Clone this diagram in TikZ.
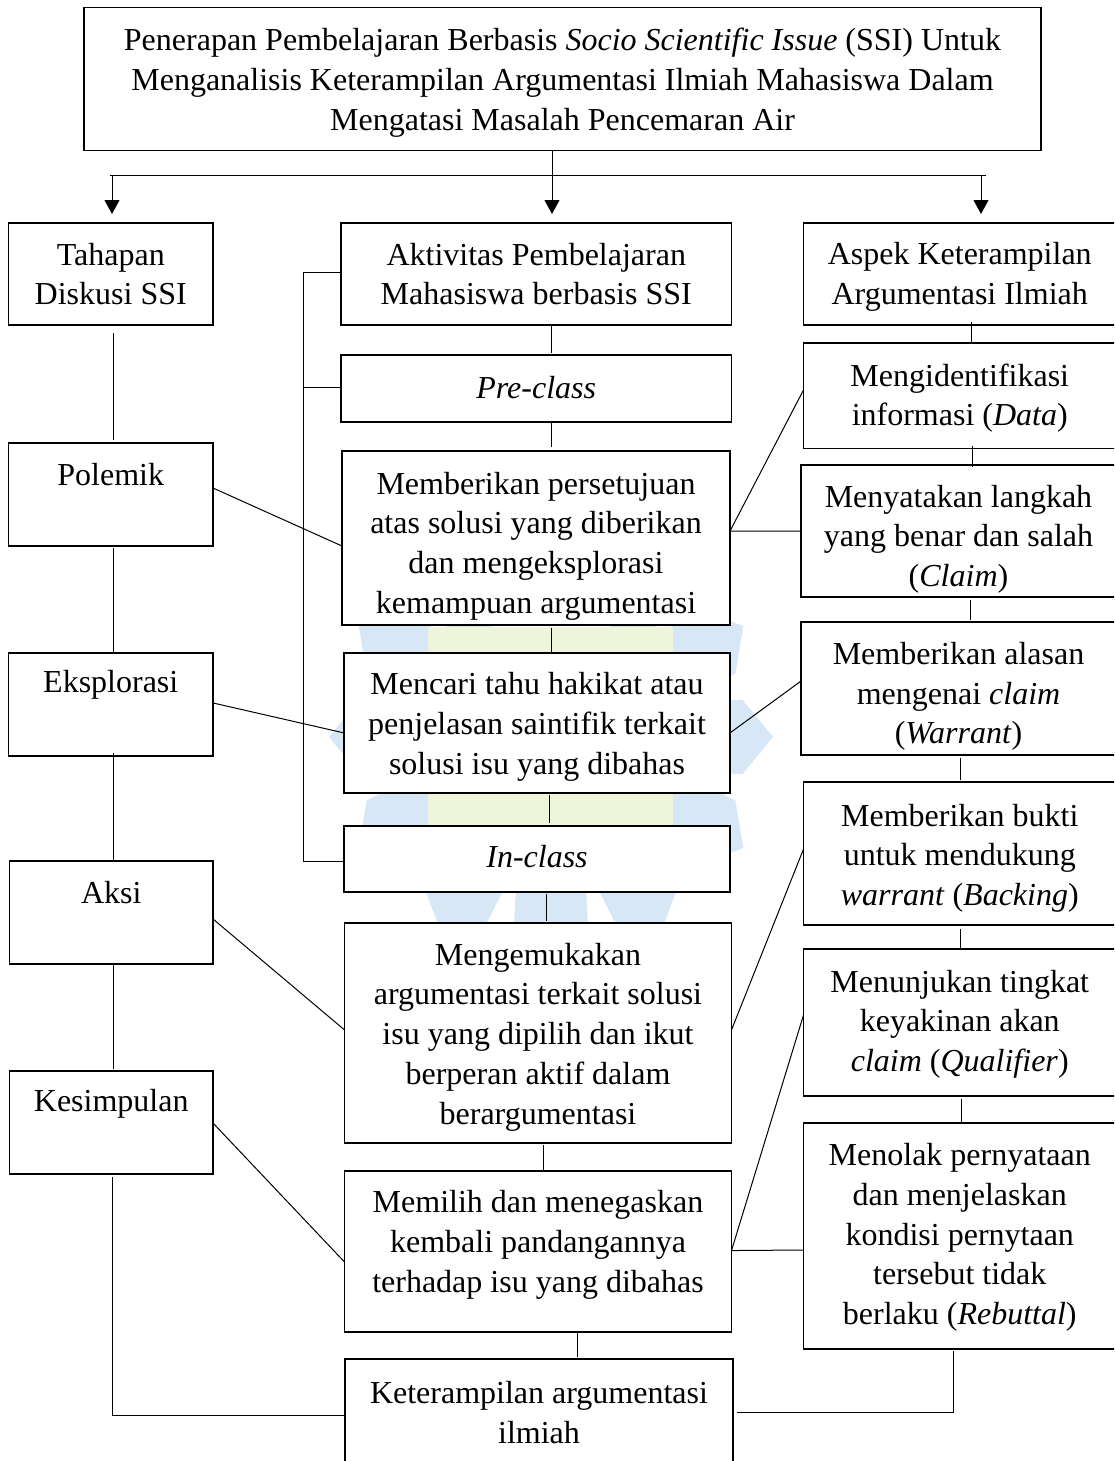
\documentclass[tikz,border=0pt]{standalone}
\usepackage{fontspec}
\setmainfont{Liberation Serif}
\usetikzlibrary{arrows.meta,calc}
\definecolor{wmblue}{RGB}{216,231,246}
\definecolor{wmgreen}{RGB}{238,245,219}
\newcommand\mybx[7]{%
  \node[box, minimum width={(#4-#2)*1pt}, minimum height={(#5-#3)*1pt}] (#1) at ({(#2+#4)/2},{(#3+#5)/2}) {};
  \node[txt] (#1-t) at ({(#2+#4)/2},#6) {#7};}
\begin{document}
\begin{tikzpicture}[x=1pt,y=-1pt,
  box/.style={draw, line width=1.5pt, fill=white, inner sep=0pt, outer sep=0pt},
  txt/.style={align=center, font=\fontsize{32pt}{39.7pt}\selectfont, inner sep=0pt},
  conn/.style={line width=1pt},
  arr/.style={conn, -{Triangle[width=15pt,length=14pt]}}]
\useasboundingbox (0,0) rectangle (1114,1461);
\clip (0,0) rectangle (1114,1461);
% watermark
\begin{scope}[shift={(551,737)}]
\foreach \a in {0,30,...,330}{\fill[wmblue] ({\a-15}:130) -- ({\a-11}:195) -- (\a:222) -- ({\a+11}:195) -- ({\a+15}:130) -- cycle;}
\end{scope}
\fill[wmgreen] (428,627) rectangle (673,890);
% boxes
\mybx{top}{84}{7.5}{1041}{150.5}{82.5}{Penerapan Pembelajaran Berbasis \textit{Socio Scientific Issue} (SSI) Untuk\\Menganalisis Keterampilan Argumentasi Ilmiah Mahasiswa Dalam\\Mengatasi Masalah Pencemaran Air}
\mybx{tahapan}{8.5}{223}{213}{325}{274}{Tahapan\\Diskusi SSI}
\mybx{polemik}{8.5}{443}{213}{546}{475}{Polemik}
\mybx{eksplorasi}{8.5}{653}{213}{756}{685}{Eksplorasi}
\mybx{aksi}{9.5}{861}{213}{964}{893}{Aksi}
\mybx{kesimpulan}{9.5}{1071}{213}{1174}{1104}{Kesimpulan}
\mybx{aktivitas}{341}{223}{731.5}{325}{274}{Aktivitas Pembelajaran\\Mahasiswa berbasis SSI}
\mybx{preclass}{341}{355}{731.5}{422}{388}{\textit{Pre-class}}
\mybx{memberikan}{342}{451}{730}{625}{546}{Memberikan persetujuan\\atas solusi yang diberikan\\dan mengeksplorasi\\kemampuan argumentasi}
\mybx{mencari}{344}{653}{730}{793}{727}{Mencari tahu hakikat atau\\penjelasan saintifik terkait\\solusi isu yang dibahas}
\mybx{inclass}{344}{826}{730}{892}{857}{\textit{In-class}}
\mybx{mengemukakan}{344.5}{923}{731.5}{1143}{1037}{Mengemukakan\\argumentasi terkait solusi\\isu yang dipilih dan ikut\\berperan aktif dalam\\berargumentasi}
\mybx{memilih}{344.5}{1171}{731.5}{1332}{1245}{Memilih dan menegaskan\\kembali pandangannya\\terhadap isu yang dibahas}
\mybx{keterampilan}{345}{1359}{733}{1463}{1412.5}{Keterampilan argumentasi\\ilmiah}
\mybx{aspek}{803.5}{223}{1116}{325}{277}{Aspek Keterampilan\\Argumentasi Ilmiah}
\mybx{data}{803.5}{343}{1116}{448.5}{398}{Mengidentifikasi\\informasi (\textit{Data})}
\mybx{claim}{801}{465}{1116}{597}{539}{Menyatakan langkah\\yang benar dan salah\\(\textit{Claim})}
\mybx{warrant}{801}{622}{1116}{755}{696.5}{Memberikan alasan\\mengenai \textit{claim}\\(\textit{Warrant})}
\mybx{backing}{803.5}{782}{1116}{925}{858}{Memberikan bukti\\untuk mendukung\\\textit{warrant} (\textit{Backing})}
\mybx{qualifier}{803.5}{949}{1116}{1096}{1024}{Menunjukan tingkat\\keyakinan akan\\\textit{claim} (\textit{Qualifier})}
\mybx{rebuttal}{803.5}{1123}{1116}{1349}{1237.5}{Menolak pernyataan\\dan menjelaskan\\kondisi pernytaan\\tersebut tidak\\berlaku (\textit{Rebuttal})}
% top distribution
\coordinate (hm) at (552,175);
\coordinate (hl) at (110,175);
\coordinate (hr) at (985.5,175);
\coordinate (aL) at (112,175);
\coordinate (aR) at (981,175);
\draw[conn] (top.south -| hm) -- (hm);
\draw[conn] (hl) -- (hr);
\draw[arr, shorten >=9pt] (aL) -- (tahapan.north -| aL);
\draw[arr, shorten >=9pt] (hm) -- (aktivitas.north -| hm);
\draw[arr, shorten >=9pt] (aR) -- (aspek.north -| aR);
% left column
\coordinate (xL) at (113.5,0);
\draw[conn, shorten <=8pt, shorten >=3pt] (tahapan.south -| xL) -- (polemik.north -| xL);
\draw[conn, shorten <=2pt] (polemik.south -| xL) -- (eksplorasi.north -| xL);
\draw[conn, shorten <=-3pt] (eksplorasi.south -| xL) -- (aksi.north -| xL);
\draw[conn, shorten >=2pt] (aksi.south -| xL) -- (kesimpulan.north -| xL);
\coordinate (xK) at (112,0);
\coordinate (yK) at (0,1415);
\draw[conn, shorten <=3pt] (kesimpulan.south -| xK) -- (xK |- yK) -- (keterampilan.west |- yK);
% middle column
\coordinate (xM1) at (551,0);
\coordinate (xM2) at (549.5,0);
\coordinate (xM3) at (546,0);
\coordinate (xM4) at (543.5,0);
\coordinate (xM5) at (577.5,0);
\draw[conn, shorten >=2pt] (aktivitas.south -| xM1) -- (preclass.north -| xM1);
\draw[conn, shorten >=4pt] (preclass.south -| xM1) -- (memberikan.north -| xM1);
\draw[conn, shorten <=3pt] (memberikan.south -| xM1) -- (mencari.north -| xM1);
\draw[conn, shorten <=2pt, shorten >=3pt] (mencari.south -| xM2) -- (inclass.north -| xM2);
\draw[conn, shorten <=2pt, shorten >=2pt] (inclass.south -| xM3) -- (mengemukakan.north -| xM3);
\draw[conn, shorten <=2pt] (mengemukakan.south -| xM4) -- (memilih.north -| xM4);
\draw[conn, shorten >=2pt] (memilih.south -| xM5) -- (keterampilan.north -| xM5);
% bracket
\coordinate (bT) at (303.5,272);
\coordinate (bM) at (303.5,387);
\coordinate (bB) at (303.5,861);
\draw[conn] (aktivitas.west |- bT) -- (bT) -- (bB) -- (inclass.west |- bB);
\draw[conn] (bM) -- (preclass.west |- bM);
% right column
\coordinate (xR1) at (971,0);
\coordinate (xR2) at (972,0);
\coordinate (xR3) at (970,0);
\coordinate (xR4) at (960.5,0);
\coordinate (xR5) at (961,0);
\coordinate (xR6) at (953,0);
\coordinate (yR) at (0,1412);
\draw[conn, shorten <=-3pt] (aspek.south -| xR1) -- (data.north -| xR1);
\draw[conn, shorten <=-3pt, shorten >=-2pt] (data.south -| xR2) -- (claim.north -| xR2);
\draw[conn, shorten <=3pt, shorten >=2pt] (claim.south -| xR3) -- (warrant.north -| xR3);
\draw[conn, shorten <=3pt, shorten >=2pt] (warrant.south -| xR4) -- (backing.north -| xR4);
\draw[conn, shorten <=4pt] (backing.south -| xR4) -- (qualifier.north -| xR4);
\draw[conn, shorten <=3pt] (qualifier.south -| xR5) -- (rebuttal.north -| xR5);
\draw[conn, shorten <=2pt, shorten >=4pt] (rebuttal.south -| xR6) -- (xR6 |- yR) -- (keterampilan.east |- yR);
% diagonals left
\draw[conn] ($(polemik.north east)!0.437!(polemik.south east)$) -- ($(memberikan.north west)!0.546!(memberikan.south west)$);
\draw[conn] ($(eksplorasi.north east)!0.485!(eksplorasi.south east)$) -- ($(mencari.north west)!0.571!(mencari.south west)$);
\draw[conn] ($(aksi.north east)!0.563!(aksi.south east)$) -- ($(mengemukakan.north west)!0.486!(mengemukakan.south west)$);
\draw[conn] ($(kesimpulan.north east)!0.505!(kesimpulan.south east)$) -- ($(memilih.north west)!0.565!(memilih.south west)$);
% diagonals right
\coordinate (mbR) at ($(memberikan.north east)!0.46!(memberikan.south east)$);
\draw[conn] (mbR) -- ($(data.north west)!0.445!(data.south west)$);
\draw[conn] (mbR) -- ($(claim.north west)!0.5!(claim.south west)$);
\draw[conn] ($(mencari.north east)!0.571!(mencari.south east)$) -- ($(warrant.north west)!0.444!(warrant.south west)$);
\draw[conn] ($(mengemukakan.north east)!0.486!(mengemukakan.south east)$) -- ($(backing.north west)!0.469!(backing.south west)$);
\coordinate (mpR) at ($(memilih.north east)!0.494!(memilih.south east)$);
\draw[conn] (mpR) -- ($(qualifier.north west)!0.449!(qualifier.south west)$);
\draw[conn] (mpR) -- ($(rebuttal.north west)!0.562!(rebuttal.south west)$);
\end{tikzpicture}
\end{document}
